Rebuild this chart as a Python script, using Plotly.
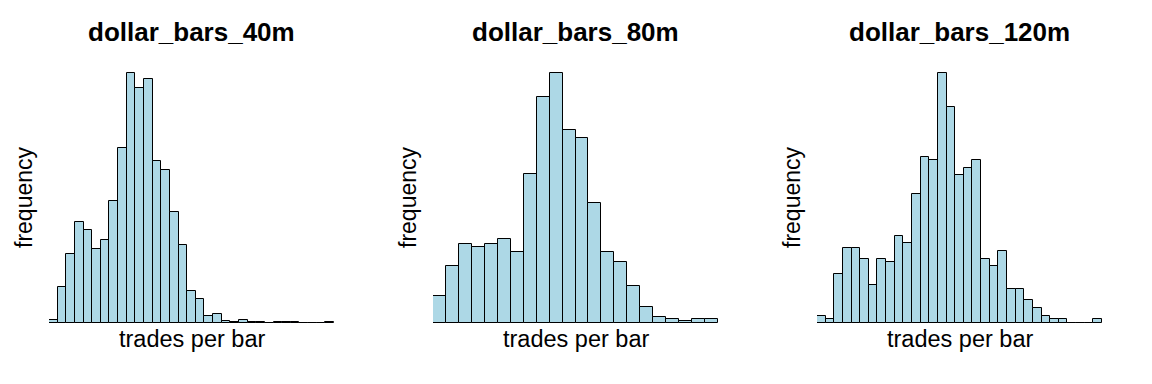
import plotly.graph_objects as go

titles = ["dollar_bars_40m", "dollar_bars_80m", "dollar_bars_120m"]
x_label = "trades per bar"
y_label = "frequency"

counts_40m = [3, 36, 69, 101, 93, 74, 83, 122, 175, 250, 235, 244, 162, 153, 111, 78,
              32, 24, 7, 9, 2, 1, 3, 1, 1, 0, 1, 1, 1, 0, 0, 0, 1]
counts_80m = [27, 57, 79, 76, 79, 84, 71, 149, 226, 250, 193, 185, 120, 71, 61, 37,
              16, 6, 4, 2, 4, 4]
counts_120m = [7, 4, 49, 75, 75, 64, 38, 64, 61, 87, 80, 129, 166, 163, 250, 216, 148,
               155, 163, 64, 57, 72, 34, 34, 23, 15, 7, 4, 4, 0, 0, 0, 4]

series = [counts_40m, counts_80m, counts_120m]

W, H = 1152, 384
panel_w = 384
x0_px, x1_px = 49, 334        # bar span within a panel
y_base_px, y_top_px = 323, 73  # baseline and max bar top
pad = 0.012                    # headroom so the top outline is not clipped

fig = go.Figure()
font = "Liberation Sans, Arial, Helvetica, sans-serif"
annotations = []
for k, counts in enumerate(series):
    n = len(counts)
    ax = "" if k == 0 else str(k + 1)
    fig.add_trace(go.Bar(
        x=list(range(n)), y=counts, width=1.0,
        marker=dict(color="#ADD8E6", line=dict(color="black", width=1)),
        xaxis="x" + ax, yaxis="y" + ax, showlegend=False, hoverinfo="skip",
    ))
    off = k * panel_w
    span = y_base_px - y_top_px
    dom_x = [(x0_px + off) / W, (x1_px + off) / W]
    dom_y = [(H - y_base_px) / H, (H - y_top_px + span * pad) / H]
    fig.update_layout(**{
        "xaxis" + ax: dict(domain=dom_x, range=[-0.5, n - 0.5], visible=False,
                           anchor="y" + ax),
        "yaxis" + ax: dict(domain=dom_y, range=[0, max(counts) * (1 + pad)],
                           visible=False, anchor="x" + ax),
    })
    cx = (x0_px + x1_px) / 2 + off
    annotations.append(dict(text="<b>" + titles[k] + "</b>", x=cx / W, y=(H - 32) / H,
                            xref="paper", yref="paper", showarrow=False,
                            xanchor="center", yanchor="middle",
                            font=dict(family=font, size=26, color="black")))
    annotations.append(dict(text=x_label, x=cx / W, y=(H - 339) / H,
                            xref="paper", yref="paper", showarrow=False,
                            xanchor="center", yanchor="middle",
                            font=dict(family=font, size=23.5, color="black")))
    annotations.append(dict(text=y_label, x=(24 + off) / W, y=(H - 197) / H,
                            xref="paper", yref="paper", showarrow=False, textangle=-90,
                            xanchor="center", yanchor="middle",
                            font=dict(family=font, size=23, color="black")))

fig.update_layout(width=W, height=H, margin=dict(l=0, r=0, t=0, b=0),
                  paper_bgcolor="white", plot_bgcolor="white",
                  bargap=0, annotations=annotations)
fig.write_html("out.html", config={"displayModeBar": False})
